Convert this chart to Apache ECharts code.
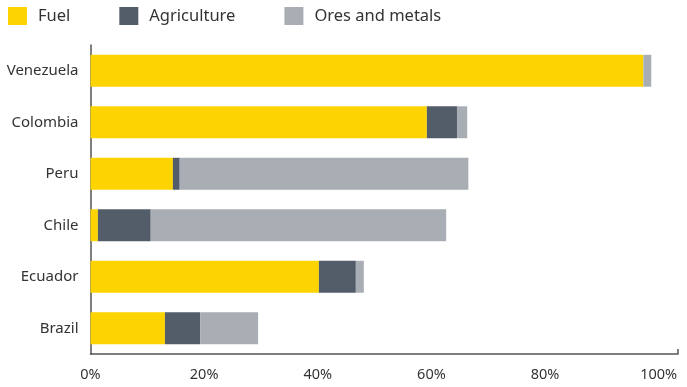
<!DOCTYPE html>
<html>
<head>
<meta charset="utf-8">
<script src="https://cdn.jsdelivr.net/npm/echarts@6/dist/echarts.min.js"></script>
<style>
  html, body { margin: 0; padding: 0; background: #fff; }
  #chart { width: 687px; height: 387px; }
</style>
</head>
<body>
<div id="chart"></div>
<script>
  // countries, top to bottom
  const countries = ['Venezuela', 'Colombia', 'Peru', 'Chile', 'Ecuador', 'Brazil']
  // share of exports, %
  const fuel = [97.3, 59.2, 14.5, 1.3, 40.2, 13.1]
  const agriculture = [0, 5.3, 1.2, 9.3, 6.5, 6.2]
  const oresMetals = [1.4, 1.8, 50.8, 52.0, 1.4, 10.2]
  const xTicks = [0, 20, 40, 60, 80, 100]
  const xMax = 103.4

  const chart = echarts.init(document.getElementById('chart'))

  const font = 'Noto Sans'

  const option = {
    animation: false,
    textStyle: { fontFamily: font },
    legend: {
      left: 3,
      top: 2,
      itemWidth: 19,
      itemHeight: 18,
      itemGap: 49,
      icon: 'rect',
      textStyle: { fontSize: 16.5, color: '#333', fontFamily: font, padding: [0, 0, 0, 6] },
      data: ['Fuel', 'Agriculture', 'Ores and metals']
    },
    grid: {
      left: 90.5,
      right: 9,
      top: 45,
      bottom: 33,
      containLabel: false
    },
    xAxis: {
      type: 'value',
      min: 0,
      max: xMax,
      interval: 20,
      splitLine: { show: false },
      axisLine: { show: true, lineStyle: { color: '#555', width: 1.5 } },
      axisTick: {
        show: true,
        inside: true,
        length: 5,
        customValues: [xMax],
        lineStyle: { color: '#555', width: 1.5 }
      },
      axisLabel: {
        customValues: xTicks,
        formatter: (v) => v + '%',
        fontSize: 14.5,
        color: '#333',
        margin: 13
      }
    },
    yAxis: {
      type: 'category',
      inverse: true,
      data: countries,
      axisLine: { show: true, lineStyle: { color: '#555', width: 1.5 } },
      axisTick: { show: false },
      axisLabel: { fontSize: 15, color: '#333', margin: 12 }
    },
    series: [
      {
        name: 'Fuel',
        type: 'bar',
        stack: 'total',
        data: fuel,
        barWidth: '62%',
        itemStyle: { color: '#fdd300' }
      },
      {
        name: 'Agriculture',
        type: 'bar',
        stack: 'total',
        data: agriculture,
        itemStyle: { color: '#535d69' }
      },
      {
        name: 'Ores and metals',
        type: 'bar',
        stack: 'total',
        data: oresMetals,
        itemStyle: { color: '#a8aeb4' }
      }
    ]
  }

  chart.setOption(option)
</script>
</body>
</html>
